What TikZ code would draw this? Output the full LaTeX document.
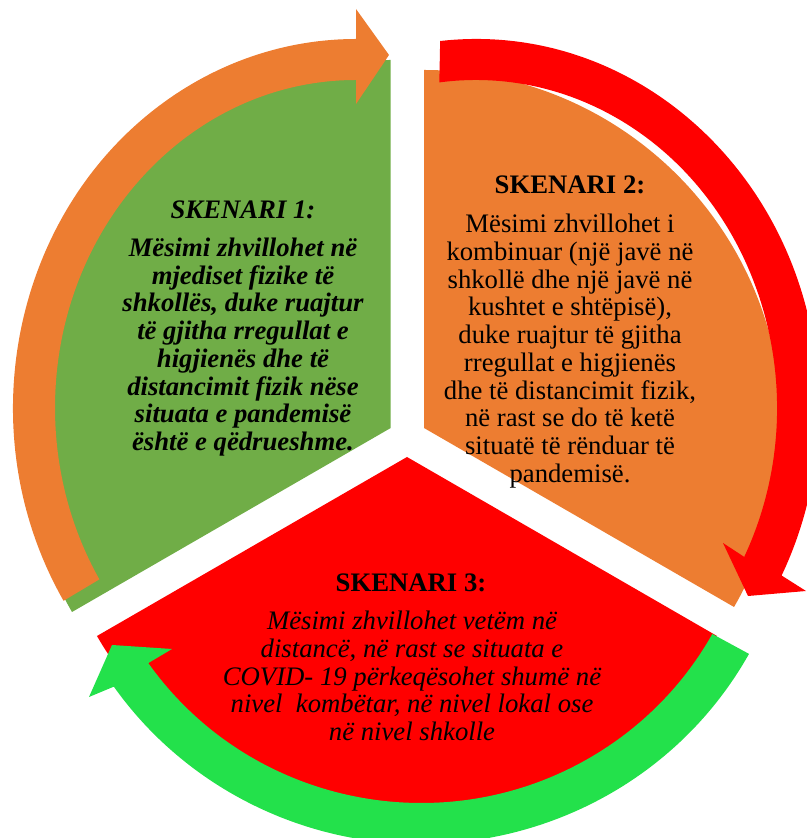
\documentclass[tikz,border=0pt]{standalone}
\usepackage{fontspec}
\setmainfont{Liberation Serif}
\definecolor{sgreen}{RGB}{112,173,71}
\definecolor{sorange}{RGB}{237,125,49}
\definecolor{sred}{RGB}{255,0,0}
\definecolor{agreen}{RGB}{35,225,75}
\begin{document}
\begin{tikzpicture}[x=0.02cm,y=0.02cm,
   txtup/.style={align=center,inner sep=0pt,font=\fontsize{15.2}{15.8}\selectfont},
   txtit/.style={align=center,inner sep=0pt,font=\fontsize{15.2}{15.8}\selectfont\itshape},
   txtbf/.style={align=center,inner sep=0pt,font=\fontsize{15.2}{15.8}\selectfont\bfseries},
   txtbi/.style={align=center,inner sep=0pt,font=\fontsize{15.2}{15.8}\selectfont\bfseries\itshape}]
   \useasboundingbox (0,0) rectangle (807,838);
   % the three sectors
   \fill[sgreen] (390.7,410) -- ++(90:368) arc[start angle=90,end angle=210,radius=368] -- cycle;
   \fill[sorange] (424,410) -- ++(90:358) arc[start angle=90,end angle=-30,radius=358] -- cycle;
   \fill[sred] (407,381) -- ++(210:358) arc[start angle=210,end angle=330,radius=358] -- cycle;
  %
   % the three arrows
   \fill[sorange] (356,430) ++(211.5:343 and 369)
      arc[start angle=211.5,end angle=90,x radius=343,y radius=369]
      -- (356,829) -- (389,783) -- (356,734) -- (356,758)
      arc[start angle=90,end angle=211.5,x radius=301,y radius=328] -- cycle;
   \fill[sred] (476,430) ++(96:343 and 369)
      arc[start angle=96,end angle=-27,x radius=343,y radius=369]
      -- (806,247) -- (748,242) -- (723,295) -- (744.2,281.1)
      arc[start angle=-27,end angle=97,x radius=301,y radius=328] -- cycle;
   \fill[agreen] (421,363) ++(-29:375 and 369)
      arc[start angle=-29,end angle=-145,x radius=375,y radius=369]
      -- (89,141) -- (112,193) -- (172,189) -- (148.3,174.9)
      arc[start angle=-145,end angle=-29,x radius=333,y radius=328] -- cycle;
  %
   \node[txtbi] (head1) at (243,628) {SKENARI 1:};
   \node[txtbi] (body1) at (243,491) {Mësimi zhvillohet në\\mjediset fizike të\\shkollës, duke ruajtur\\të gjitha rregullat e\\higjienës dhe të\\distancimit fizik nëse\\situata e pandemisë\\është e qëdrueshme.};
   \node[txtbf] (head2) at (570,653) {SKENARI 2:};
   \node[txtup] (body2) at (570,487) {Mësimi zhvillohet i\\kombinuar (një javë në\\shkollë dhe një javë në\\kushtet e shtëpisë),\\duke ruajtur të gjitha\\rregullat e higjienës\\dhe të distancimit fizik,\\në rast se do të ketë\\situatë të rënduar të\\pandemisë.};
   \node[txtbf] (head3) at (411,255) {SKENARI 3:};
   \node[txtit] (body3) at (412,162) {Mësimi zhvillohet vetëm në\\distancë, në rast se situata e\\COVID- 19 përkeqësohet shumë në\\nivel~ kombëtar, në nivel lokal ose\\në nivel shkolle};
\end{tikzpicture}
\end{document}
